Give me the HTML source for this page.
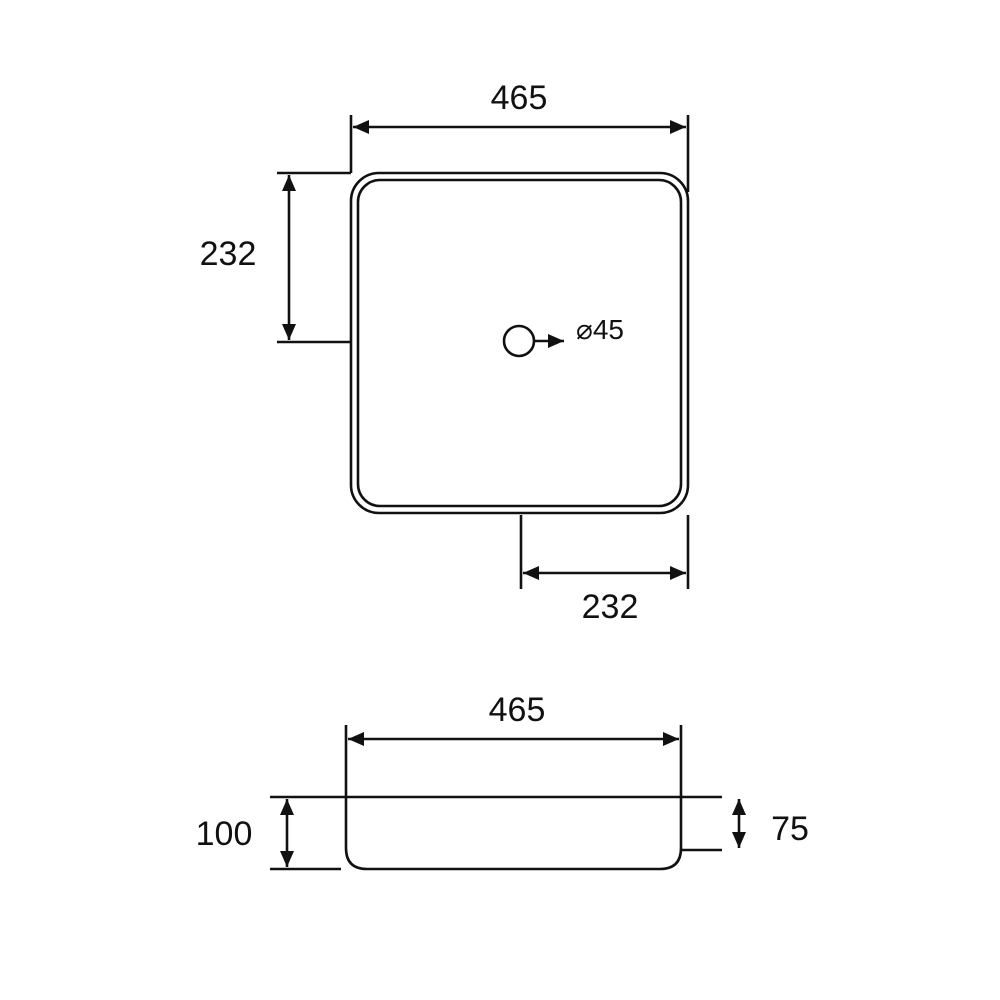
<!DOCTYPE html>
<html><head><meta charset="utf-8"><style>html,body{margin:0;padding:0;background:#fff}svg{display:block}</style></head>
<body>
<svg width="1000" height="1000" viewBox="0 0 1000 1000" xmlns="http://www.w3.org/2000/svg">
<defs>
<marker id="a" viewBox="0 0 16 14" refX="16" refY="7" markerWidth="16" markerHeight="14" markerUnits="userSpaceOnUse" orient="auto-start-reverse" overflow="visible">
<path d="M0,0 L16,7 L0,14 Z" fill="#111"/>
</marker>
</defs>
<g fill="none" stroke="#111" stroke-width="2.6">
<rect x="351" y="173" width="337" height="340" rx="28"/>
<rect x="358" y="180" width="323" height="326" rx="22"/>
<line x1="351" y1="115" x2="351" y2="173"/>
<line x1="688" y1="115" x2="688" y2="192"/>
<line x1="353" y1="127" x2="686" y2="127" marker-start="url(#a)" marker-end="url(#a)"/>
<line x1="277" y1="173" x2="351" y2="173"/>
<line x1="277" y1="342" x2="351" y2="342"/>
<line x1="289" y1="175" x2="289" y2="340" marker-start="url(#a)" marker-end="url(#a)"/>
<circle cx="519" cy="341" r="15"/>
<line x1="534" y1="341" x2="564" y2="341" marker-end="url(#a)"/>
<line x1="521" y1="515" x2="521" y2="589"/>
<line x1="688" y1="515" x2="688" y2="589"/>
<line x1="523" y1="573" x2="686" y2="573" marker-start="url(#a)" marker-end="url(#a)"/>
<line x1="270" y1="797" x2="722" y2="797"/>
<path d="M346,725 V848 Q346,869 367,869 H660 Q681,869 681,848 V725"/>
<line x1="270" y1="869" x2="341" y2="869"/>
<line x1="681" y1="850" x2="722" y2="850"/>
<line x1="348" y1="739" x2="679" y2="739" marker-start="url(#a)" marker-end="url(#a)"/>
<line x1="287" y1="799" x2="287" y2="867" marker-start="url(#a)" marker-end="url(#a)"/>
<line x1="739" y1="799" x2="739" y2="848" marker-start="url(#a)" marker-end="url(#a)"/>
</g>
<g font-family="Liberation Sans, sans-serif" fill="#111" text-anchor="middle">
<text x="519" y="109" font-size="34">465</text>
<text x="228" y="265" font-size="34">232</text>
<text x="600" y="339" font-size="28">⌀45</text>
<text x="610" y="618" font-size="34">232</text>
<text x="517" y="721" font-size="34">465</text>
<text x="224" y="845" font-size="34">100</text>
<text x="790" y="840" font-size="34">75</text>
</g>
</svg>
</body></html>
